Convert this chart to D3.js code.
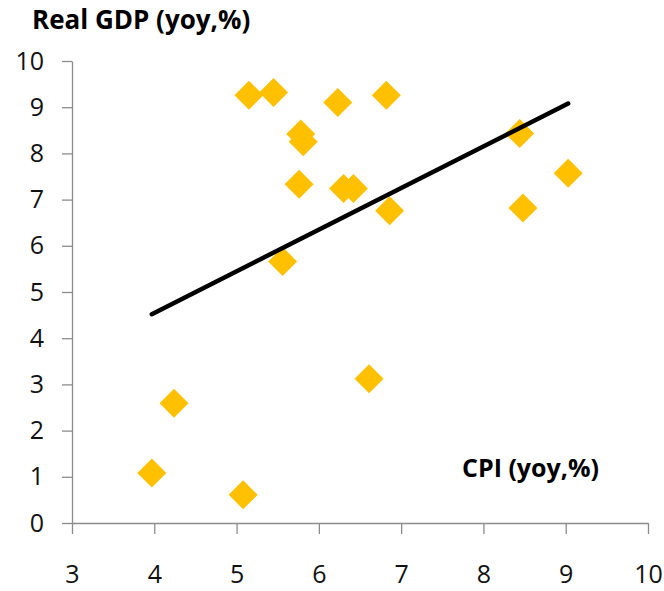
<!DOCTYPE html>
<meta charset="utf-8">
<script src="https://d3js.org/d3.v7.min.js"></script>
<style>
  body { margin: 0; background: #fff; }
  text { font-family: "Open Sans", sans-serif; }
</style>
<body>
<script>

// CPI (yoy,%) vs Real GDP (yoy,%)
var cpi = [5.15, 5.45, 6.23, 6.82, 5.78, 5.81, 8.44, 5.76, 6.30, 6.42, 9.03, 6.86, 8.48, 5.56, 6.61, 4.24, 3.97, 5.08];
var gdp = [9.26, 9.32, 9.10, 9.26, 8.42, 8.25, 8.43, 7.33, 7.24, 7.24, 7.57, 6.76, 6.82, 5.66, 3.12, 2.59, 1.08, 0.61];

// trend line end points
var trendX = [3.97, 9.03];
var trendY = [4.52, 9.08];

var xTicks = [3, 4, 5, 6, 7, 8, 9, 10];
var yTicks = [0, 1, 2, 3, 4, 5, 6, 7, 8, 9, 10];

var width = 664, height = 591;

var x = d3.scaleLinear().domain([3, 10]).range([72, 648]);
var y = d3.scaleLinear().domain([0, 10]).range([523, 61]);

var svg = d3.select("body").append("svg")
    .attr("width", width)
    .attr("height", height);

var font_size = "25px";

svg.append("g")
    .attr("class", "x axis")
    .attr("transform", "translate(0,523)")
    .call(d3.axisBottom(x).tickValues(xTicks).tickFormat(d3.format("d"))
          .tickSize(11).tickSizeOuter(0).tickPadding(31))
    .call(g => g.selectAll("path, line").attr("stroke", "#8c8c8c").attr("stroke-width", 1.3))
    .selectAll("text")
      .style("font-size", font_size)
      .attr("fill", "#111");

svg.append("g")
    .attr("class", "y axis")
    .attr("transform", "translate(72,0)")
    .call(d3.axisLeft(y).tickValues(yTicks).tickFormat(d3.format("d"))
          .tickSize(10).tickSizeOuter(0).tickPadding(18))
    .call(g => g.selectAll("path, line").attr("stroke", "#8c8c8c").attr("stroke-width", 1.3))
    .selectAll("text")
      .style("font-size", font_size)
      .attr("fill", "#111");

// points
var pts = cpi.map(function(d, i) { return {x: d, y: gdp[i]}; });

svg.selectAll(".pt")
    .data(pts)
    .enter().append("path")
      .attr("class", "pt")
      .attr("d", d3.symbol().type(d3.symbolSquare).size(420))
      .attr("transform", function(d) { return "translate(" + x(d.x) + "," + y(d.y) + ") rotate(45)"; })
      .style("fill", "#ffc000");

// trend line
var line = d3.line()
    .x(function(d) { return x(d[0]); })
    .y(function(d) { return y(d[1]); });

svg.append("path")
    .datum(d3.zip(trendX, trendY))
    .attr("d", line)
    .attr("fill", "none")
    .attr("stroke", "#000")
    .attr("stroke-width", 4.5)
    .attr("stroke-linecap", "round");

svg.append("text")
    .attr("x", 32)
    .attr("y", 29)
    .style("font-size", "26px")
    .style("font-weight", "bold")
    .text("Real GDP (yoy,%)");

svg.append("text")
    .attr("x", 462)
    .attr("y", 477)
    .style("font-size", font_size)
    .style("font-weight", "bold")
    .text("CPI (yoy,%)");
</script>
